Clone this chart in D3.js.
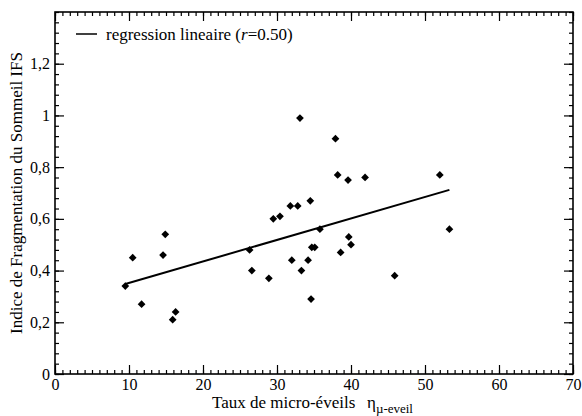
<!DOCTYPE html>
<html><head><meta charset="utf-8">
<script src="https://cdn.jsdelivr.net/npm/d3@7"></script>
<style>body{margin:0;background:#fff}svg{display:block}text{font-family:"Liberation Serif","Times New Roman",serif;fill:#000}</style>
</head><body><svg id="c" width="582" height="416" font-family="Liberation Serif"></svg>
<script>
const xVals = [9.5,10.5,11.7,14.6,14.9,15.9,16.3,26.3,26.6,28.9,29.5,30.4,31.8,32.8,32.0,33.3,33.1,34.5,34.2,34.7,35.1,35.8,34.6,37.9,38.2,39.6,41.9,38.6,39.7,40.0,45.9,52.0,53.3];
const yVals = [0.34,0.45,0.27,0.46,0.54,0.21,0.24,0.48,0.40,0.37,0.60,0.61,0.65,0.65,0.44,0.40,0.99,0.67,0.44,0.49,0.49,0.56,0.29,0.91,0.77,0.75,0.76,0.47,0.53,0.50,0.38,0.77,0.56];
const fitX = [9.5, 53.3];
const fitY = [0.348, 0.712];
const xTicks = [0,10,20,30,40,50,60,70];
const yTicks = [0,0.2,0.4,0.6,0.8,1,1.2];
const yTickLabels = ["0","0,2","0,4","0,6","0,8","1","1,2"];
const legendLabel = ["regression lineaire (", "r", "=0.50)"];
const xTitle = "Taux de micro-éveils";
const yTitle = "Indice de Fragmentation du Sommeil IFS";

const FONT = "Liberation Serif";
const svg = d3.select("#c");
const L=55, R=573, T=12, B=374;
const x = d3.scaleLinear().domain([0,70]).range([L,R]);
const y = d3.scaleLinear().domain([0,1.4]).range([B,T]);

const g = svg.append("g");
g.append("rect").attr("x",L).attr("y",T).attr("width",R-L).attr("height",B-T)
 .attr("fill","none").attr("stroke","#000").attr("stroke-width",1.6);

const xMinor = d3.range(0,71,1);
const yMinor = d3.range(0,1.4001,0.04);
const fmt = d => yTickLabels[yTicks.findIndex(t=>Math.abs(t-d)<1e-6)];
function ax(gen, tr){ return svg.append("g").attr("transform",tr).call(gen); }
ax(d3.axisBottom(x).tickValues(xMinor).tickSize(-4).tickFormat(""), `translate(0,${B})`);
ax(d3.axisBottom(x).tickValues(xTicks).tickSize(-9).tickPadding(5).tickFormat(d3.format("d")), `translate(0,${B})`);
ax(d3.axisTop(x).tickValues(xMinor).tickSize(-4).tickFormat(""), `translate(0,${T})`);
ax(d3.axisTop(x).tickValues(xTicks).tickSize(-9).tickFormat(""), `translate(0,${T})`);
ax(d3.axisLeft(y).tickValues(yMinor).tickSize(-4).tickFormat(""), `translate(${L},0)`);
ax(d3.axisLeft(y).tickValues(yTicks).tickSize(-9).tickPadding(5).tickFormat(fmt), `translate(${L},0)`);
ax(d3.axisRight(y).tickValues(yMinor).tickSize(-4).tickFormat(""), `translate(${R},0)`);
ax(d3.axisRight(y).tickValues(yTicks).tickSize(-9).tickFormat(""), `translate(${R},0)`);
svg.selectAll(".domain").remove();
svg.selectAll("g").attr("font-family",FONT).attr("font-size",16);
svg.selectAll(".tick line").attr("stroke","#000").attr("stroke-width",1.2);
svg.selectAll(".tick text").attr("font-family",FONT).attr("font-size",16);

g.append("line").attr("x1",x(fitX[0])).attr("y1",y(fitY[0])).attr("x2",x(fitX[1])).attr("y2",y(fitY[1]))
 .attr("stroke","#000").attr("stroke-width",2);

const sym = d3.symbol().type(d3.symbolSquare).size(30);
g.selectAll("path.pt").data(xVals.map((v,i)=>[v,yVals[i]])).join("path")
 .attr("class","pt").attr("d",sym)
 .attr("transform",d=>`translate(${x(d[0])},${y(d[1])}) rotate(45)`).attr("fill","#000");

g.append("line").attr("x1",76).attr("x2",97).attr("y1",34).attr("y2",34).attr("stroke","#000").attr("stroke-width",1.5);
const lt = g.append("text").attr("x",106).attr("y",40).attr("font-family",FONT).attr("font-size",17);
lt.append("tspan").text(legendLabel[0]);
lt.append("tspan").attr("font-style","italic").text(legendLabel[1]);
lt.append("tspan").text(legendLabel[2]);

const xt = svg.append("text").attr("x",212).attr("y",408).attr("font-family",FONT).attr("font-size",17);
xt.append("tspan").text(xTitle);
xt.append("tspan").attr("x",367).text("η");
xt.append("tspan").attr("dy",5).attr("font-size",13).text("µ-eveil");

svg.append("text").attr("transform",`translate(22,${(T+B)/2}) rotate(-90)`).attr("text-anchor","middle")
 .attr("font-family",FONT).attr("font-size",17).text(yTitle);
</script></body></html>
